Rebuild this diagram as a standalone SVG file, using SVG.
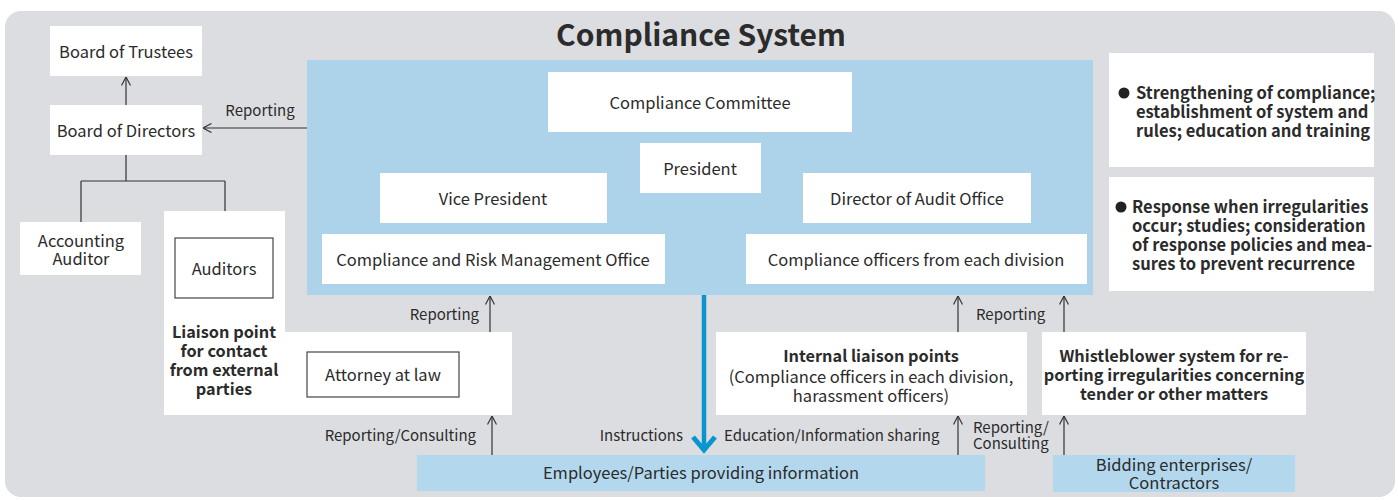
<svg xmlns="http://www.w3.org/2000/svg" width="1398" height="500" viewBox="0 0 1398 500">
<style>
text{font-family:"Noto Sans CJK JP","Noto Sans",sans-serif;fill:#2b2b2b}
.n{font-size:16.5px;text-anchor:middle}
.b{font-size:16.3px;font-weight:bold;text-anchor:middle}
.l{font-size:15px}
.t{font-size:16.5px;font-weight:bold}
.w{fill:#fff}
.ln{stroke:#333;stroke-width:1.2;fill:none}
.ar{stroke:#333;stroke-width:1.2;fill:none;marker-end:url(#arr)}
.ob{fill:none;stroke:#444;stroke-width:1.2}
</style>
<defs>
<marker id="arr" viewBox="0 0 10 10" refX="9.5" refY="5" markerWidth="10" markerHeight="10" markerUnits="userSpaceOnUse" orient="auto">
<path d="M1,0.5 L9.5,5 L1,9.5" fill="none" stroke="#333" stroke-width="1.2"/>
</marker>
</defs>
<rect x="5" y="11" width="1390" height="486" rx="16" fill="#dcdde0"/>
<text x="701" y="46" style="font-size:30px;font-weight:bold;text-anchor:middle">Compliance System</text>
<rect id="panel" x="307" y="60" width="786" height="235" fill="#acd3e9"/>

<g id="trustees"><rect class="w" x="50" y="26" width="152" height="50"/><text class="n" x="126" y="58">Board of Trustees</text></g>
<g id="directors"><rect class="w" x="50" y="105" width="152" height="50"/><text class="n" x="126" y="137">Board of Directors</text></g>
<g id="accounting"><rect class="w" x="20" y="222" width="121" height="53"/><text class="n" x="81" y="247">Accounting</text><text class="n" x="81" y="265">Auditor</text></g>
<g id="liaison">
<polygon class="w" points="164,211 285,211 285,332 512,332 512,415 164,415"/>
<rect class="ob" x="175" y="238" width="98" height="60" fill="#fff"/>
<text class="n" x="224" y="275">Auditors</text>
<text class="b" x="224" y="338">Liaison point</text>
<text class="b" x="224" y="357">for contact</text>
<text class="b" x="224" y="376">from external</text>
<text class="b" x="224" y="395">parties</text>
<rect class="ob" x="307" y="352" width="152" height="45" fill="#fff"/>
<text class="n" x="383" y="381">Attorney at law</text>
</g>
<g id="committee"><rect class="w" x="548" y="72" width="304" height="60"/><text class="n" x="700" y="109">Compliance Committee</text></g>
<g id="president"><rect class="w" x="640" y="143" width="121" height="50"/><text class="n" x="700" y="175">President</text></g>
<g id="vice"><rect class="w" x="380" y="173" width="227" height="50"/><text class="n" x="493" y="205">Vice President</text></g>
<g id="audit"><rect class="w" x="803" y="173" width="228" height="50"/><text class="n" x="917" y="205">Director of Audit Office</text></g>
<g id="crm"><rect class="w" x="322" y="234" width="343" height="50"/><text class="n" x="493" y="266">Compliance and Risk Management Office</text></g>
<g id="officers"><rect class="w" x="746" y="234" width="341" height="50"/><text class="n" x="916" y="266">Compliance officers from each division</text></g>
<g id="note1"><rect class="w" x="1109" y="53" width="265" height="114"/><circle cx="1124" cy="93" r="5.5" fill="#222"/>
<text class="t" x="1136" y="99">Strengthening of compliance;</text>
<text class="t" x="1136" y="118">establishment of system and</text>
<text class="t" x="1136" y="137">rules; education and training</text></g>
<g id="note2"><rect class="w" x="1109" y="177" width="265" height="114"/><circle cx="1121" cy="207" r="5.5" fill="#222"/>
<text class="t" x="1132" y="213">Response when irregularities</text>
<text class="t" x="1132" y="232">occur; studies; consideration</text>
<text class="t" x="1132" y="251">of response policies and mea-</text>
<text class="t" x="1132" y="270">sures to prevent recurrence</text></g>
<g id="internal"><rect class="w" x="716" y="332" width="311" height="83"/>
<text class="b" x="871" y="362">Internal liaison points</text>
<text class="n" x="871" y="383">(Compliance officers in each division,</text>
<text class="n" x="871" y="402">harassment officers)</text></g>
<g id="whistle"><rect class="w" x="1042" y="332" width="264" height="83"/>
<text class="b" x="1174" y="362">Whistleblower system for re-</text>
<text class="b" x="1174" y="381">porting irregularities concerning</text>
<text class="b" x="1174" y="400">tender or other matters</text></g>
<g id="employees"><rect x="417" y="455" width="568" height="36" fill="#b3d8ed"/><text class="n" x="701" y="479">Employees/Parties providing information</text></g>
<g id="bidding"><rect x="1053" y="455" width="242" height="37" fill="#b3d8ed"/><text class="n" x="1174" y="471">Bidding enterprises/</text><text class="n" x="1174" y="489">Contractors</text></g>

<g id="connectors">
<line class="ar" x1="126" y1="105" x2="126" y2="77"/>
<line class="ar" x1="307" y1="128" x2="203" y2="128"/>
<path class="ln" d="M126,155 V181 M81,181 H225 M81,181 V222 M225,181 V211"/>
<line class="ar" x1="490" y1="332" x2="490" y2="296"/>
<line class="ar" x1="492" y1="455" x2="492" y2="416"/>
<line class="ar" x1="958" y1="332" x2="958" y2="296"/>
<line class="ar" x1="1064" y1="332" x2="1064" y2="296"/>
<line class="ar" x1="958" y1="455" x2="958" y2="416"/>
<line class="ar" x1="1064" y1="455" x2="1064" y2="416"/>
<line x1="704" y1="295" x2="704" y2="449" stroke="#0a95cf" stroke-width="4.5"/>
<path d="M693,437 L704,450 L715,437" fill="none" stroke="#0a95cf" stroke-width="5" stroke-linejoin="miter"/>
<text class="l" x="260" y="116" text-anchor="middle">Reporting</text>
<text class="l" x="479" y="320" text-anchor="end">Reporting</text>
<text class="l" x="476" y="441" text-anchor="end">Reporting/Consulting</text>
<text class="l" x="683" y="441" text-anchor="end">Instructions</text>
<text class="l" x="724" y="441">Education/Information sharing</text>
<text class="l" x="976" y="320">Reporting</text>
<text class="l" x="973" y="433">Reporting/</text>
<text class="l" x="973" y="449">Consulting</text>
</g>
</svg>
